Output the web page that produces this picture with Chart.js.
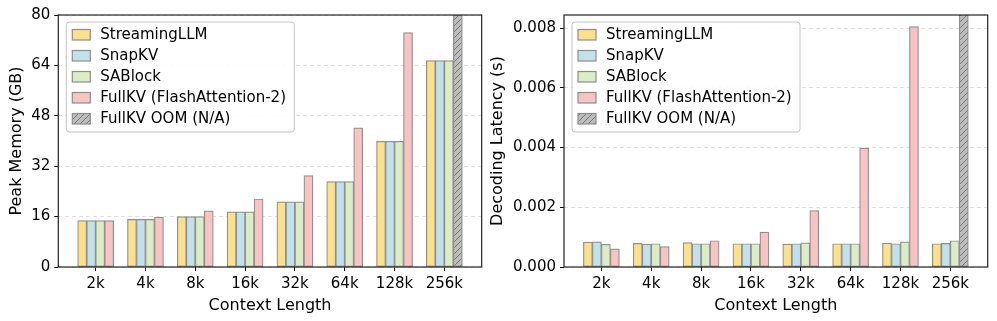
<!DOCTYPE html>
<html>
<head>
<meta charset="utf-8">
<script src="https://cdn.jsdelivr.net/npm/chart.js@4"></script>
<style>
  html,body{margin:0;padding:0;background:#fff;}
  #wrap{position:relative;width:997px;height:321px;overflow:hidden;}
  #wrap canvas{position:absolute;top:0;}
</style>
</head>
<body>
<div id="wrap">
  <canvas id="memChart" width="490" height="321" style="left:0"></canvas>
  <canvas id="latChart" width="507" height="321" style="left:490px"></canvas>
</div>
<script>
/* ── data ── */
const CONTEXTS = ['2k','4k','8k','16k','32k','64k','128k','256k'];
const SERIES   = ['StreamingLLM','SnapKV','SABlock','FullKV (FlashAttention-2)','FullKV OOM (N/A)'];

// peak memory (GB)
const MEM_STREAMING = [14.7, 15.1, 16.0, 17.5, 20.7, 27.1, 39.9, 65.5];
const MEM_SNAPKV    = [14.7, 15.1, 16.0, 17.5, 20.7, 27.1, 39.9, 65.5];
const MEM_SABLOCK   = [14.7, 15.1, 16.0, 17.5, 20.7, 27.1, 39.9, 65.5];
const MEM_FULLKV    = [14.7, 15.8, 17.8, 21.6, 29.0, 44.2, 74.4, null];
const MEM_OOM       = [null, null, null, null, null, null, null, 80];
const MEM_TICKS     = [0, 16, 32, 48, 64, 80];

// decoding latency (s)
const LAT_STREAMING = [0.00083, 0.00079, 0.00082, 0.00078, 0.00077, 0.00078, 0.00080, 0.00078];
const LAT_SNAPKV    = [0.00084, 0.00077, 0.00078, 0.00078, 0.00078, 0.00078, 0.00078, 0.00079];
const LAT_SABLOCK   = [0.00076, 0.00078, 0.00078, 0.00078, 0.00081, 0.00078, 0.00084, 0.00088];
const LAT_FULLKV    = [0.00061, 0.00068, 0.00088, 0.00117, 0.00189, 0.00398, 0.00805, null];
const LAT_OOM       = [null, null, null, null, null, null, null, 0.0085];
const LAT_TICKS     = [0, 0.002, 0.004, 0.006, 0.008];

/* ── styling ── */
const FILLS = ['#fde08b','#c2e1eb','#dcedc6','#f8c3c3'];
const EDGE = '#8e8e8e';
const FONT = 'DejaVu Sans';
Chart.defaults.font.family = FONT;
Chart.defaults.color = '#000';

function hatchPattern(){
  const c = document.createElement('canvas'); c.width = c.height = 6;
  const g = c.getContext('2d');
  g.fillStyle = '#bdbdbd'; g.fillRect(0,0,6,6);
  g.strokeStyle = '#777'; g.lineWidth = 1;
  g.beginPath();
  g.moveTo(0,6); g.lineTo(6,0);
  g.moveTo(-1,1); g.lineTo(1,-1);
  g.moveTo(5,7); g.lineTo(7,5);
  g.stroke();
  return g.createPattern(c,'repeat');
}
const HATCH = hatchPattern();

const pts = arr => arr.map((v,i)=> v==null ? null : {x:i, y:v}).filter(Boolean);

// frame round the plot + matplotlib-like legend box inside top-left
const framePlugin = {
  id:'frameLegend',
  afterDraw(chart){
    const ca = chart.chartArea, ctx = chart.ctx;
    ctx.save();
    // legend
    const x0 = ca.left + 8, y0 = ca.top + 7, w = 228, h = 110, r = 3;
    ctx.beginPath();
    ctx.moveTo(x0+r,y0); ctx.lineTo(x0+w-r,y0); ctx.arcTo(x0+w,y0,x0+w,y0+r,r);
    ctx.lineTo(x0+w,y0+h-r); ctx.arcTo(x0+w,y0+h,x0+w-r,y0+h,r);
    ctx.lineTo(x0+r,y0+h); ctx.arcTo(x0,y0+h,x0,y0+h-r,r);
    ctx.lineTo(x0,y0+r); ctx.arcTo(x0,y0,x0+r,y0,r); ctx.closePath();
    ctx.fillStyle = 'rgba(255,255,255,0.85)'; ctx.fill();
    ctx.strokeStyle = '#c4c4c4'; ctx.lineWidth = 1; ctx.stroke();
    ctx.font = '15px "'+FONT+'"'; ctx.textBaseline = 'middle'; ctx.textAlign = 'left';
    chart.data.datasets.forEach((ds,i)=>{
      const cy = y0 + 12.5 + i*21;
      ctx.fillStyle = ds.backgroundColor;
      ctx.fillRect(x0+6, cy-5, 18, 10.5);
      ctx.strokeStyle = EDGE; ctx.lineWidth = 1.2;
      ctx.strokeRect(x0+6, cy-5, 18, 10.5);
      ctx.fillStyle = '#000';
      ctx.fillText(ds.label, x0+34, cy+0.5);
    });
    // frame
    ctx.strokeStyle = '#222'; ctx.lineWidth = 1.2;
    ctx.strokeRect(ca.left, ca.top, ca.width, ca.height);
    ctx.restore();
  }
};

function makeChart(id, sets, yMax, yTicks, yTitle, yWidth, padRight, titlePad, fmt){
  const stacks = ['s','n','b','f','f'];
  const datasets = sets.map((arr,i)=>({
    label: SERIES[i],
    data: pts(arr),
    stack: stacks[i],
    backgroundColor: i < 4 ? FILLS[i] : HATCH,
    borderColor: EDGE,
    borderWidth: 1.2,
    borderSkipped: false,
    barThickness: 9,
  }));
  return new Chart(document.getElementById(id).getContext('2d'), {
    type:'bar',
    data:{datasets},
    plugins:[framePlugin],
    options:{
      responsive:false, animation:false, devicePixelRatio:1,
      layout:{padding:{top:15, right:padRight, bottom:0, left:0}},
      plugins:{legend:{display:false}, tooltip:{enabled:false}},
      scales:{
        x:{
          type:'linear', min:-0.75, max:7.75, offset:false,
          afterFit: s => { s.height = 54; },
          afterBuildTicks: s => { s.ticks = CONTEXTS.map((c,i)=>({value:i})); },
          ticks:{callback: v => CONTEXTS[v], font:{size:15}, color:'#000', padding:4, maxRotation:0, autoSkip:false},
          grid:{offset:false, drawOnChartArea:false, tickLength:4, tickColor:'#000', tickWidth:1},
          border:{display:false},
          title:{display:true, text:'Context Length', font:{size:16, lineHeight:1}, color:'#000', padding:{top:0, bottom:7.5}}
        },
        y:{
          min:0, max:yMax,
          afterFit: s => { s.width = yWidth; },
          afterBuildTicks: s => { s.ticks = yTicks.map(v=>({value:v})); },
          ticks:{callback: fmt, font:{size:15}, color:'#000', padding:4},
          grid:{color:'#d8d8d8', lineWidth:0.8, tickLength:4, tickColor:'#000', tickWidth:1, tickBorderDash:[]},
          border:{display:false, dash:[4,3]},
          title:{display:true, text:yTitle, font:{size:16, lineHeight:1}, color:'#000', padding:{top:titlePad, bottom:0}}
        }
      }
    }
  });
}

makeChart('memChart', [MEM_STREAMING, MEM_SNAPKV, MEM_SABLOCK, MEM_FULLKV, MEM_OOM],
  80, MEM_TICKS, 'Peak Memory (GB)', 58.3, 8.3, 9, v => String(v));
makeChart('latChart', [LAT_STREAMING, LAT_SNAPKV, LAT_SABLOCK, LAT_FULLKV, LAT_OOM],
  0.00844, LAT_TICKS, 'Decoding Latency (s)', 74, 9.3, 0, v => v.toFixed(3));
</script>
</body>
</html>
